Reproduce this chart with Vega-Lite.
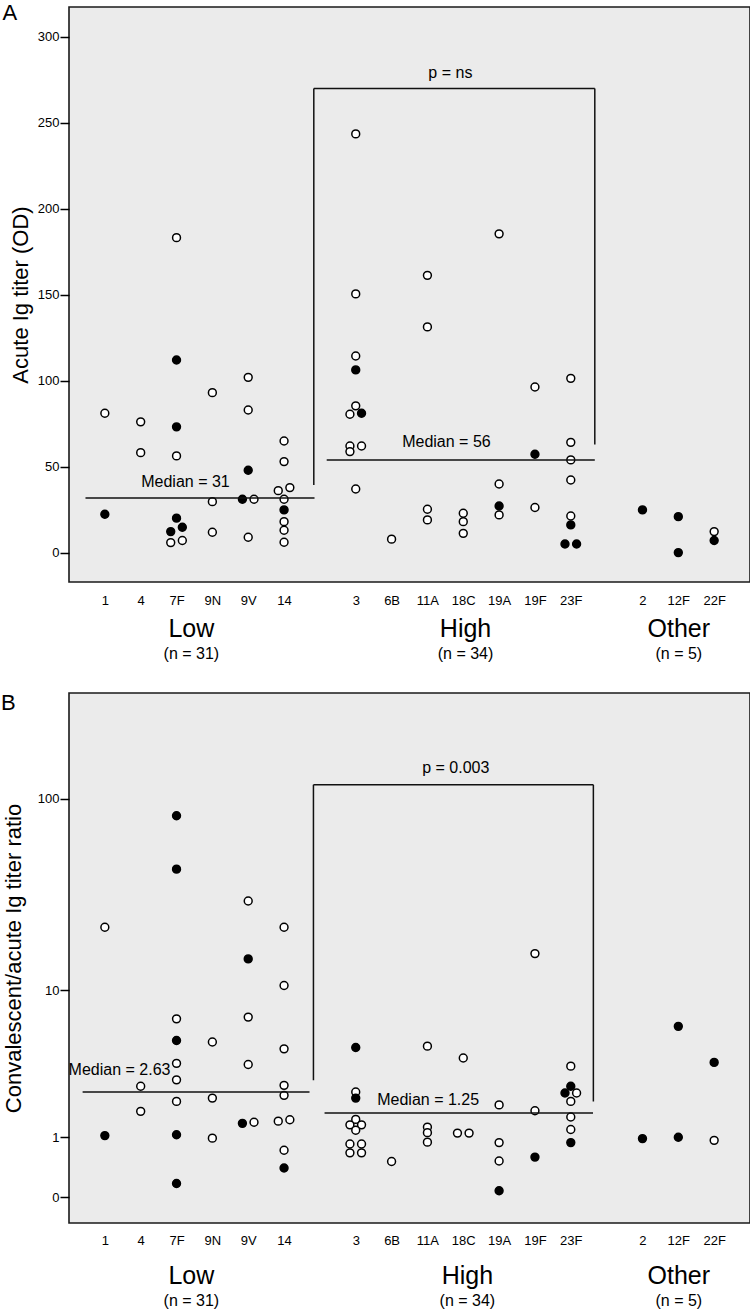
{
  "$schema": "https://vega.github.io/schema/vega-lite/v6.json",
  "padding": {"left": 0, "right": 1, "top": 1, "bottom": 0},
  "background": "white",
  "spacing": 29,
  "config": {
    "font": "Liberation Sans",
    "view": {"fill": "#ebebeb", "stroke": "#1a1a1a", "strokeWidth": 1.6},
    "axis": {"labelColor": "black", "titleColor": "black", "tickColor": "black", "domain": false, "grid": false, "labelFont": "Liberation Sans", "titleFont": "Liberation Sans", "titleFontWeight": "normal"},
    "text": {"font": "Liberation Sans", "color": "black"},
    "title": {"font": "Liberation Sans", "color": "black", "fontWeight": "normal"}
  },
  "datasets": {
    "pointsA": [
      {"serotype": "1", "group": "Low", "value": 81.2, "symbol": "open", "dodge": 0},
      {"serotype": "1", "group": "Low", "value": 22.5, "symbol": "filled", "dodge": 0},
      {"serotype": "4", "group": "Low", "value": 76.2, "symbol": "open", "dodge": 0},
      {"serotype": "4", "group": "Low", "value": 58.3, "symbol": "open", "dodge": 0},
      {"serotype": "7F", "group": "Low", "value": 183.3, "symbol": "open", "dodge": 0},
      {"serotype": "7F", "group": "Low", "value": 112.2, "symbol": "filled", "dodge": 0},
      {"serotype": "7F", "group": "Low", "value": 73.3, "symbol": "filled", "dodge": 0},
      {"serotype": "7F", "group": "Low", "value": 56.4, "symbol": "open", "dodge": 0},
      {"serotype": "7F", "group": "Low", "value": 20.2, "symbol": "filled", "dodge": 0},
      {"serotype": "7F", "group": "Low", "value": 12.4, "symbol": "filled", "dodge": -1},
      {"serotype": "7F", "group": "Low", "value": 14.9, "symbol": "filled", "dodge": 1},
      {"serotype": "7F", "group": "Low", "value": 6.0, "symbol": "open", "dodge": -1},
      {"serotype": "7F", "group": "Low", "value": 7.2, "symbol": "open", "dodge": 1},
      {"serotype": "9N", "group": "Low", "value": 93.2, "symbol": "open", "dodge": 0},
      {"serotype": "9N", "group": "Low", "value": 29.8, "symbol": "open", "dodge": 0},
      {"serotype": "9N", "group": "Low", "value": 12.0, "symbol": "open", "dodge": 0},
      {"serotype": "9V", "group": "Low", "value": 102.1, "symbol": "open", "dodge": 0},
      {"serotype": "9V", "group": "Low", "value": 83.1, "symbol": "open", "dodge": 0},
      {"serotype": "9V", "group": "Low", "value": 48.1, "symbol": "filled", "dodge": 0},
      {"serotype": "9V", "group": "Low", "value": 31.2, "symbol": "filled", "dodge": -1},
      {"serotype": "9V", "group": "Low", "value": 31.2, "symbol": "open", "dodge": 1},
      {"serotype": "9V", "group": "Low", "value": 9.1, "symbol": "open", "dodge": 0},
      {"serotype": "14", "group": "Low", "value": 65.1, "symbol": "open", "dodge": 0},
      {"serotype": "14", "group": "Low", "value": 53.1, "symbol": "open", "dodge": 0},
      {"serotype": "14", "group": "Low", "value": 36.2, "symbol": "open", "dodge": -1},
      {"serotype": "14", "group": "Low", "value": 38.0, "symbol": "open", "dodge": 1},
      {"serotype": "14", "group": "Low", "value": 31.2, "symbol": "open", "dodge": 0},
      {"serotype": "14", "group": "Low", "value": 25.0, "symbol": "filled", "dodge": 0},
      {"serotype": "14", "group": "Low", "value": 18.2, "symbol": "open", "dodge": 0},
      {"serotype": "14", "group": "Low", "value": 13.2, "symbol": "open", "dodge": 0},
      {"serotype": "14", "group": "Low", "value": 6.2, "symbol": "open", "dodge": 0},
      {"serotype": "3", "group": "High", "value": 243.6, "symbol": "open", "dodge": 0},
      {"serotype": "3", "group": "High", "value": 150.6, "symbol": "open", "dodge": 0},
      {"serotype": "3", "group": "High", "value": 114.5, "symbol": "open", "dodge": 0},
      {"serotype": "3", "group": "High", "value": 106.4, "symbol": "filled", "dodge": 0},
      {"serotype": "3", "group": "High", "value": 85.5, "symbol": "open", "dodge": 0},
      {"serotype": "3", "group": "High", "value": 80.6, "symbol": "open", "dodge": -1},
      {"serotype": "3", "group": "High", "value": 81.2, "symbol": "filled", "dodge": 1},
      {"serotype": "3", "group": "High", "value": 62.2, "symbol": "open", "dodge": -1},
      {"serotype": "3", "group": "High", "value": 58.9, "symbol": "open", "dodge": -1},
      {"serotype": "3", "group": "High", "value": 62.2, "symbol": "open", "dodge": 1},
      {"serotype": "3", "group": "High", "value": 37.2, "symbol": "open", "dodge": 0},
      {"serotype": "6B", "group": "High", "value": 8.0, "symbol": "open", "dodge": 0},
      {"serotype": "11A", "group": "High", "value": 161.4, "symbol": "open", "dodge": 0},
      {"serotype": "11A", "group": "High", "value": 131.4, "symbol": "open", "dodge": 0},
      {"serotype": "11A", "group": "High", "value": 25.4, "symbol": "open", "dodge": 0},
      {"serotype": "11A", "group": "High", "value": 19.2, "symbol": "open", "dodge": 0},
      {"serotype": "18C", "group": "High", "value": 23.1, "symbol": "open", "dodge": 0},
      {"serotype": "18C", "group": "High", "value": 18.2, "symbol": "open", "dodge": 0},
      {"serotype": "18C", "group": "High", "value": 11.4, "symbol": "open", "dodge": 0},
      {"serotype": "19A", "group": "High", "value": 185.5, "symbol": "open", "dodge": 0},
      {"serotype": "19A", "group": "High", "value": 40.1, "symbol": "open", "dodge": 0},
      {"serotype": "19A", "group": "High", "value": 22.1, "symbol": "open", "dodge": 0},
      {"serotype": "19A", "group": "High", "value": 27.3, "symbol": "filled", "dodge": 0},
      {"serotype": "19F", "group": "High", "value": 96.5, "symbol": "open", "dodge": 0},
      {"serotype": "19F", "group": "High", "value": 57.4, "symbol": "filled", "dodge": 0},
      {"serotype": "19F", "group": "High", "value": 26.4, "symbol": "open", "dodge": 0},
      {"serotype": "23F", "group": "High", "value": 101.5, "symbol": "open", "dodge": 0},
      {"serotype": "23F", "group": "High", "value": 64.3, "symbol": "open", "dodge": 0},
      {"serotype": "23F", "group": "High", "value": 54.1, "symbol": "open", "dodge": 0},
      {"serotype": "23F", "group": "High", "value": 42.4, "symbol": "open", "dodge": 0},
      {"serotype": "23F", "group": "High", "value": 21.5, "symbol": "open", "dodge": 0},
      {"serotype": "23F", "group": "High", "value": 16.3, "symbol": "filled", "dodge": 0},
      {"serotype": "23F", "group": "High", "value": 5.2, "symbol": "filled", "dodge": -1},
      {"serotype": "23F", "group": "High", "value": 5.2, "symbol": "filled", "dodge": 1},
      {"serotype": "2", "group": "Other", "value": 25.0, "symbol": "filled", "dodge": 0},
      {"serotype": "12F", "group": "Other", "value": 21.1, "symbol": "filled", "dodge": 0},
      {"serotype": "12F", "group": "Other", "value": 0.2, "symbol": "filled", "dodge": 0},
      {"serotype": "22F", "group": "Other", "value": 12.4, "symbol": "open", "dodge": 0},
      {"serotype": "22F", "group": "Other", "value": 7.2, "symbol": "filled", "dodge": 0}
    ],
    "pointsB": [
      {"serotype": "1", "group": "Low", "value": 21.8, "symbol": "open", "dodge": 0},
      {"serotype": "1", "group": "Low", "value": 1.04, "symbol": "filled", "dodge": 0},
      {"serotype": "4", "group": "Low", "value": 2.61, "symbol": "open", "dodge": 0},
      {"serotype": "4", "group": "Low", "value": 1.70, "symbol": "open", "dodge": 0},
      {"serotype": "7F", "group": "Low", "value": 82.0, "symbol": "filled", "dodge": 0},
      {"serotype": "7F", "group": "Low", "value": 43.7, "symbol": "filled", "dodge": 0},
      {"serotype": "7F", "group": "Low", "value": 6.89, "symbol": "open", "dodge": 0},
      {"serotype": "7F", "group": "Low", "value": 5.14, "symbol": "filled", "dodge": 0},
      {"serotype": "7F", "group": "Low", "value": 3.71, "symbol": "open", "dodge": 0},
      {"serotype": "7F", "group": "Low", "value": 2.89, "symbol": "open", "dodge": 0},
      {"serotype": "7F", "group": "Low", "value": 2.03, "symbol": "open", "dodge": 0},
      {"serotype": "7F", "group": "Low", "value": 1.06, "symbol": "filled", "dodge": 0},
      {"serotype": "7F", "group": "Low", "value": 0.17, "symbol": "filled", "dodge": 0},
      {"serotype": "9N", "group": "Low", "value": 5.03, "symbol": "open", "dodge": 0},
      {"serotype": "9N", "group": "Low", "value": 2.15, "symbol": "open", "dodge": 0},
      {"serotype": "9N", "group": "Low", "value": 0.98, "symbol": "open", "dodge": 0},
      {"serotype": "9V", "group": "Low", "value": 29.9, "symbol": "open", "dodge": 0},
      {"serotype": "9V", "group": "Low", "value": 14.8, "symbol": "filled", "dodge": 0},
      {"serotype": "9V", "group": "Low", "value": 7.05, "symbol": "open", "dodge": 0},
      {"serotype": "9V", "group": "Low", "value": 3.65, "symbol": "open", "dodge": 0},
      {"serotype": "9V", "group": "Low", "value": 1.35, "symbol": "filled", "dodge": -1},
      {"serotype": "9V", "group": "Low", "value": 1.38, "symbol": "open", "dodge": 1},
      {"serotype": "14", "group": "Low", "value": 21.8, "symbol": "open", "dodge": 0},
      {"serotype": "14", "group": "Low", "value": 10.6, "symbol": "open", "dodge": 0},
      {"serotype": "14", "group": "Low", "value": 4.57, "symbol": "open", "dodge": 0},
      {"serotype": "14", "group": "Low", "value": 2.65, "symbol": "open", "dodge": 0},
      {"serotype": "14", "group": "Low", "value": 2.25, "symbol": "open", "dodge": 0},
      {"serotype": "14", "group": "Low", "value": 1.41, "symbol": "open", "dodge": -1},
      {"serotype": "14", "group": "Low", "value": 1.45, "symbol": "open", "dodge": 1},
      {"serotype": "14", "group": "Low", "value": 0.72, "symbol": "open", "dodge": 0},
      {"serotype": "14", "group": "Low", "value": 0.40, "symbol": "filled", "dodge": 0},
      {"serotype": "3", "group": "High", "value": 4.66, "symbol": "filled", "dodge": 0},
      {"serotype": "3", "group": "High", "value": 2.38, "symbol": "open", "dodge": 0},
      {"serotype": "3", "group": "High", "value": 2.15, "symbol": "filled", "dodge": 0},
      {"serotype": "3", "group": "High", "value": 1.46, "symbol": "open", "dodge": 0},
      {"serotype": "3", "group": "High", "value": 1.31, "symbol": "open", "dodge": -1},
      {"serotype": "3", "group": "High", "value": 1.31, "symbol": "open", "dodge": 1},
      {"serotype": "3", "group": "High", "value": 1.17, "symbol": "open", "dodge": 0},
      {"serotype": "3", "group": "High", "value": 0.85, "symbol": "open", "dodge": -1},
      {"serotype": "3", "group": "High", "value": 0.85, "symbol": "open", "dodge": 1},
      {"serotype": "3", "group": "High", "value": 0.67, "symbol": "open", "dodge": -1},
      {"serotype": "3", "group": "High", "value": 0.67, "symbol": "open", "dodge": 1},
      {"serotype": "6B", "group": "High", "value": 0.51, "symbol": "open", "dodge": 0},
      {"serotype": "11A", "group": "High", "value": 4.75, "symbol": "open", "dodge": 0},
      {"serotype": "11A", "group": "High", "value": 1.25, "symbol": "open", "dodge": 0},
      {"serotype": "11A", "group": "High", "value": 1.11, "symbol": "open", "dodge": 0},
      {"serotype": "11A", "group": "High", "value": 0.89, "symbol": "open", "dodge": 0},
      {"serotype": "18C", "group": "High", "value": 4.01, "symbol": "open", "dodge": 0},
      {"serotype": "18C", "group": "High", "value": 1.10, "symbol": "open", "dodge": -1},
      {"serotype": "18C", "group": "High", "value": 1.10, "symbol": "open", "dodge": 1},
      {"serotype": "19A", "group": "High", "value": 1.91, "symbol": "open", "dodge": 0},
      {"serotype": "19A", "group": "High", "value": 0.88, "symbol": "open", "dodge": 0},
      {"serotype": "19A", "group": "High", "value": 0.52, "symbol": "open", "dodge": 0},
      {"serotype": "19A", "group": "High", "value": 0.076, "symbol": "filled", "dodge": 0},
      {"serotype": "19F", "group": "High", "value": 15.8, "symbol": "open", "dodge": 0},
      {"serotype": "19F", "group": "High", "value": 1.72, "symbol": "open", "dodge": 0},
      {"serotype": "19F", "group": "High", "value": 0.59, "symbol": "filled", "dodge": 0},
      {"serotype": "23F", "group": "High", "value": 3.56, "symbol": "open", "dodge": 0},
      {"serotype": "23F", "group": "High", "value": 2.61, "symbol": "filled", "dodge": 0},
      {"serotype": "23F", "group": "High", "value": 2.34, "symbol": "open", "dodge": 1},
      {"serotype": "23F", "group": "High", "value": 2.34, "symbol": "filled", "dodge": -1},
      {"serotype": "23F", "group": "High", "value": 2.03, "symbol": "open", "dodge": 0},
      {"serotype": "23F", "group": "High", "value": 1.53, "symbol": "open", "dodge": 0},
      {"serotype": "23F", "group": "High", "value": 1.19, "symbol": "open", "dodge": 0},
      {"serotype": "23F", "group": "High", "value": 0.88, "symbol": "filled", "dodge": 0},
      {"serotype": "2", "group": "Other", "value": 0.97, "symbol": "filled", "dodge": 0},
      {"serotype": "12F", "group": "Other", "value": 6.23, "symbol": "filled", "dodge": 0},
      {"serotype": "12F", "group": "Other", "value": 1.00, "symbol": "filled", "dodge": 0},
      {"serotype": "22F", "group": "Other", "value": 3.76, "symbol": "filled", "dodge": 0},
      {"serotype": "22F", "group": "Other", "value": 0.93, "symbol": "open", "dodge": 0}
    ],
    "linesA": [
      {"part": "median Low", "x": -0.54, "x2": 5.85, "value": 32, "value2": 32},
      {"part": "median High", "x": 6.19, "x2": 13.67, "value": 54, "value2": 54},
      {"part": "bracket left", "x": 5.83, "x2": 5.83, "value": 39.5, "value2": 270},
      {"part": "bracket top", "x": 5.83, "x2": 13.67, "value": 270, "value2": 270},
      {"part": "bracket right", "x": 13.67, "x2": 13.67, "value": 63, "value2": 270}
    ],
    "linesB": [
      {"part": "median Low", "x": -0.62, "x2": 5.71, "value": 2.38, "value2": 2.38},
      {"part": "median High", "x": 6.13, "x2": 13.62, "value": 1.65, "value2": 1.65},
      {"part": "bracket left", "x": 5.82, "x2": 5.82, "value": 2.87, "value2": 117.9},
      {"part": "bracket top", "x": 5.82, "x2": 13.63, "value": 117.9, "value2": 117.9},
      {"part": "bracket right", "x": 13.63, "x2": 13.63, "value": 2.03, "value2": 117.9}
    ],
    "textA": [
      {"x": 2.25, "value": 41.4, "label": "Median = 31"},
      {"x": 9.53, "value": 64.4, "label": "Median = 56"},
      {"x": 9.64, "value": 279, "label": "p = ns"}
    ],
    "textB": [
      {"x": 0.41, "value": 3.38, "label": "Median = 2.63"},
      {"x": 9.02, "value": 2.095, "label": "Median = 1.25"},
      {"x": 9.79, "value": 143.5, "label": "p = 0.003"}
    ]
  },
  "vconcat": [
    {
      "width": 681,
      "height": 575,
      "title": {"text": "A", "anchor": "start", "frame": "bounds", "orient": "top", "offset": -18.4, "dx": -6.8, "fontSize": 22},
      "encoding": {
        "y": {"field": "value", "type": "quantitative", "scale": {"domain": [-16.9, 317.4], "nice": false, "zero": false},
          "axis": {"values": [0, 50, 100, 150, 200, 250, 300], "title": "Acute Ig titer (OD)", "titleFontSize": 22, "titlePadding": 5, "labelFontSize": 13, "tickSize": 9, "tickWidth": 1.5, "labelPadding": 1}}
      },
      "layer": [
        {
          "data": {"name": "pointsA"},
          "mark": {"type": "point", "shape": "circle", "filled": true, "size": 62, "stroke": "black", "strokeWidth": 1.5, "opacity": 1},
          "encoding": {
            "x": {"field": "serotype", "type": "nominal", "scale": {"type": "point", "domain": ["1", "4", "7F", "9N", "9V", "14", " ", "3", "6B", "11A", "18C", "19A", "19F", "23F", "  ", "2", "12F", "22F"], "padding": 1},
              "axis": {"orient": "bottom", "title": null, "labelAngle": 0, "labelFontSize": 13, "labelPadding": 12, "ticks": false, "tickSize": 0, "domain": false, "labelOverlap": false}},
            "xOffset": {"field": "dodge", "type": "quantitative", "scale": {"domain": [-1, 1], "range": [-5.8, 5.8]}},
            "fill": {"field": "symbol", "type": "nominal", "scale": {"domain": ["open", "filled"], "range": ["white", "black"]}, "legend": null}
          }
        },
        {
          "data": {"name": "linesA"},
          "mark": {"type": "rule", "color": "#111111", "strokeWidth": 1.5},
          "encoding": {
            "x": {"field": "x", "type": "quantitative", "scale": {"domain": [-1, 18], "nice": false, "zero": false},
              "axis": {"orient": "bottom", "title": null, "values": [2.4, 10.05, 16], "labelExpr": "datum.value < 6 ? 'Low' : (datum.value < 14 ? 'High' : 'Other')", "labelFontSize": 25, "labelPadding": 34, "ticks": false, "tickSize": 0, "domain": false, "grid": false, "labelOverlap": false, "labelFlush": false}},
            "x2": {"field": "x2"},
            "y2": {"field": "value2"}
          }
        },
        {
          "data": {"name": "textA"},
          "mark": {"type": "text", "fontSize": 16, "align": "center", "baseline": "middle"},
          "encoding": {
            "x": {"field": "x", "type": "quantitative", "scale": {"domain": [-1, 18], "nice": false, "zero": false},
              "axis": {"orient": "bottom", "title": null, "values": [2.4, 10.05, 16], "labelExpr": "datum.value < 6 ? '(n = 31)' : (datum.value < 14 ? '(n = 34)' : '(n = 5)')", "labelFontSize": 16, "labelPadding": 63, "ticks": false, "tickSize": 0, "domain": false, "grid": false, "labelOverlap": false, "labelFlush": false}},
            "text": {"field": "label"}
          }
        }
      ],
      "resolve": {"scale": {"x": "independent"}, "axis": {"x": "independent"}}
    },
    {
      "width": 681,
      "height": 530,
      "title": {"text": "B", "anchor": "start", "frame": "bounds", "orient": "top", "offset": -22.4, "dx": -1.3, "fontSize": 22},
      "encoding": {
        "y": {"field": "value", "type": "quantitative", "scale": {"type": "symlog", "constant": 1, "domain": [-0.35, 343], "nice": false, "zero": false},
          "axis": {"values": [0, 1, 10, 100], "title": "Convalescent/acute Ig titer ratio", "titleFontSize": 22, "titlePadding": 12, "labelFontSize": 13, "tickSize": 9, "tickWidth": 1.5, "labelPadding": 1}}
      },
      "layer": [
        {
          "data": {"name": "pointsB"},
          "mark": {"type": "point", "shape": "circle", "filled": true, "size": 62, "stroke": "black", "strokeWidth": 1.5, "opacity": 1},
          "encoding": {
            "x": {"field": "serotype", "type": "nominal", "scale": {"type": "point", "domain": ["1", "4", "7F", "9N", "9V", "14", " ", "3", "6B", "11A", "18C", "19A", "19F", "23F", "  ", "2", "12F", "22F"], "padding": 1},
              "axis": {"orient": "bottom", "title": null, "labelAngle": 0, "labelFontSize": 13, "labelPadding": 11, "ticks": false, "tickSize": 0, "domain": false, "labelOverlap": false}},
            "xOffset": {"field": "dodge", "type": "quantitative", "scale": {"domain": [-1, 1], "range": [-5.8, 5.8]}},
            "fill": {"field": "symbol", "type": "nominal", "scale": {"domain": ["open", "filled"], "range": ["white", "black"]}, "legend": null}
          }
        },
        {
          "data": {"name": "linesB"},
          "mark": {"type": "rule", "color": "#111111", "strokeWidth": 1.5},
          "encoding": {
            "x": {"field": "x", "type": "quantitative", "scale": {"domain": [-1, 18], "nice": false, "zero": false},
              "axis": {"orient": "bottom", "title": null, "values": [2.4, 10.1, 16], "labelExpr": "datum.value < 6 ? 'Low' : (datum.value < 14 ? 'High' : 'Other')", "labelFontSize": 25, "labelPadding": 40, "ticks": false, "tickSize": 0, "domain": false, "grid": false, "labelOverlap": false, "labelFlush": false}},
            "x2": {"field": "x2"},
            "y2": {"field": "value2"}
          }
        },
        {
          "data": {"name": "textB"},
          "mark": {"type": "text", "fontSize": 16, "align": "center", "baseline": "middle"},
          "encoding": {
            "x": {"field": "x", "type": "quantitative", "scale": {"domain": [-1, 18], "nice": false, "zero": false},
              "axis": {"orient": "bottom", "title": null, "values": [2.4, 10.1, 16], "labelExpr": "datum.value < 6 ? '(n = 31)' : (datum.value < 14 ? '(n = 34)' : '(n = 5)')", "labelFontSize": 16, "labelPadding": 69, "ticks": false, "tickSize": 0, "domain": false, "grid": false, "labelOverlap": false, "labelFlush": false}},
            "text": {"field": "label"}
          }
        }
      ],
      "resolve": {"scale": {"x": "independent"}, "axis": {"x": "independent"}}
    }
  ]
}
